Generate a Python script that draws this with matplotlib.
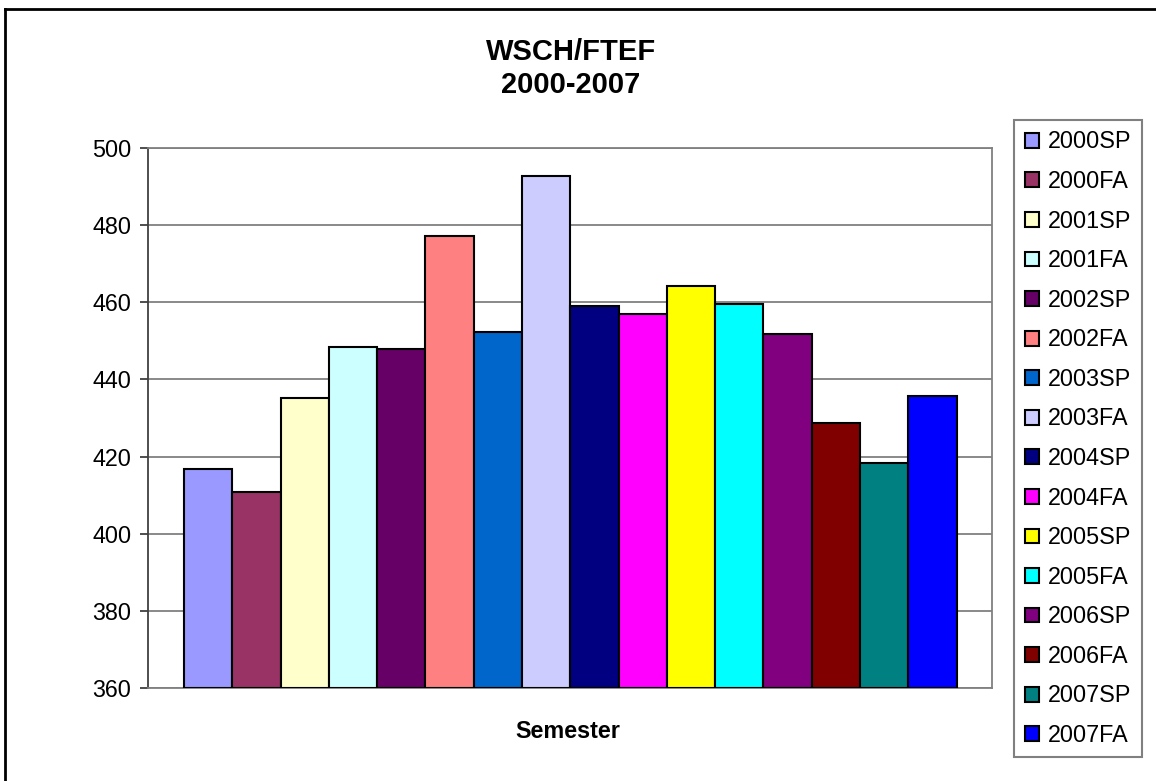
import matplotlib
matplotlib.use("Agg")
import matplotlib.pyplot as plt
from matplotlib.lines import Line2D

plt.rcParams['font.family'] = ['Liberation Sans', 'DejaVu Sans']

semesters = ['2000SP', '2000FA', '2001SP', '2001FA', '2002SP', '2002FA', '2003SP', '2003FA',
             '2004SP', '2004FA', '2005SP', '2005FA', '2006SP', '2006FA', '2007SP', '2007FA']
wsch_ftef = [416.8, 410.7, 435.3, 448.3, 447.8, 477.3, 452.2, 492.7,
             459.0, 456.9, 464.2, 459.5, 451.7, 428.6, 418.4, 435.8]
bar_colors = ['#9999FF', '#993366', '#FFFFCC', '#CCFFFF', '#660066', '#FF8080', '#0066CC', '#CCCCFF',
              '#000080', '#FF00FF', '#FFFF00', '#00FFFF', '#800080', '#800000', '#008080', '#0000FF']
y_ticks = [360, 380, 400, 420, 440, 460, 480, 500]

W, H = 1156, 781
fig = plt.figure(figsize=(W / 100, H / 100), dpi=100)
ax = fig.add_axes([148 / W, 1 - 688 / H, (992 - 148) / W, (688 - 148) / H])

for i, (name, val, col) in enumerate(zip(semesters, wsch_ftef, bar_colors)):
    ax.bar(i, val - 360, bottom=360, width=1.0, color=col, edgecolor='black',
           linewidth=1.5, label=name, zorder=3)

ax.set_xlim(-0.5 - 0.745, 15.5 + 0.735)
ax.set_ylim(360, 500)
ax.set_yticks(y_ticks)
ax.set_xticks([])
ax.tick_params(axis='y', labelsize=16.8, length=6, width=1.3, color='#404040', pad=6)
ax.yaxis.grid(True, color='#808080', linewidth=1.3, zorder=0)
ax.set_axisbelow(True)
for side in ['top', 'right', 'bottom']:
    ax.spines[side].set_color('#808080')
    ax.spines[side].set_linewidth(1.3)
ax.spines['left'].set_color('#404040')
ax.spines['left'].set_linewidth(1.3)

fig.text(571 / W, 1 - 51.7 / H, 'WSCH/FTEF', ha='center', va='center', fontsize=21, fontweight='bold')
fig.text(571 / W, 1 - 85 / H, '2000-2007', ha='center', va='center', fontsize=21, fontweight='bold')
fig.text(568 / W, 1 - 731 / H, 'Semester', ha='center', va='center', fontsize=16.8, fontweight='bold')

leg = ax.legend(loc='upper left', bbox_to_anchor=(1014 / W, 1 - 120 / H), bbox_transform=fig.transFigure,
                borderaxespad=0, fontsize=16.8, handlelength=0.6, handleheight=0.6,
                handletextpad=0.4, labelspacing=0.71, borderpad=0.45, fancybox=False, framealpha=1)
leg.get_frame().set_edgecolor('#808080')
leg.get_frame().set_linewidth(1.5)

# outer chart border (right and bottom fall outside the picture)
fig.add_artist(Line2D([5 / W, 5 / W], [1 - 9 / H, -0.1], color='black', linewidth=2, transform=fig.transFigure))
fig.add_artist(Line2D([5 / W, 1.1], [1 - 9 / H, 1 - 9 / H], color='black', linewidth=2, transform=fig.transFigure))

fig.savefig('out.png', dpi=100)
